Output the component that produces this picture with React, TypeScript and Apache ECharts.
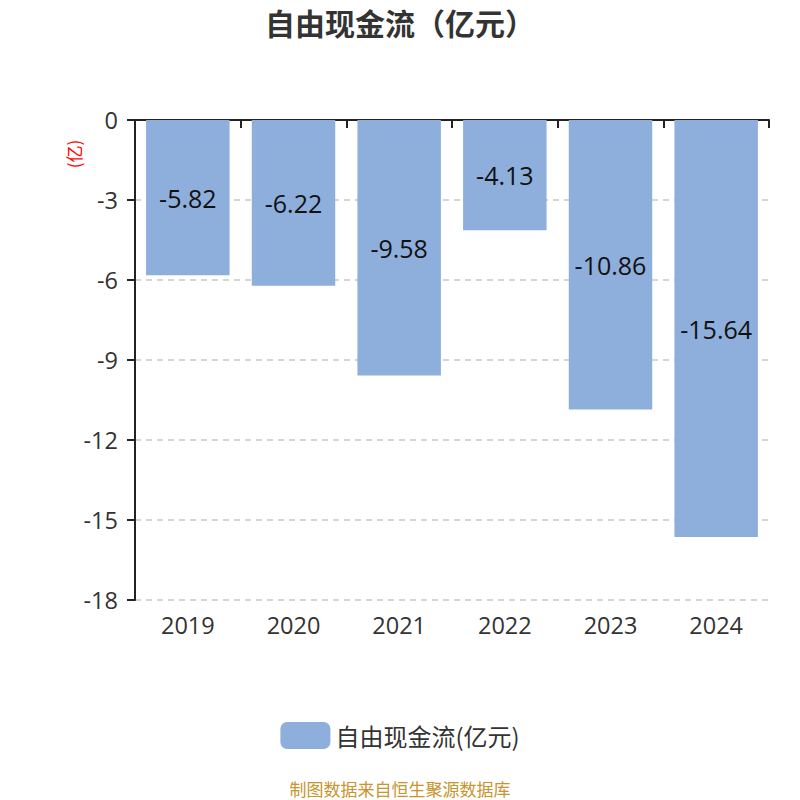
import React, { useEffect, useRef } from "react";
import * as echarts from "echarts";

const categories = ["2019", "2020", "2021", "2022", "2023", "2024"];
const values = [-5.82, -6.22, -9.58, -4.13, -10.86, -15.64];
const seriesName = "自由现金流(亿元)";
const titleText = "自由现金流（亿元）";
const unitText = "(亿)";
const footerText = "制图数据来自恒生聚源数据库";

export default function App() {
  const ref = useRef<HTMLDivElement>(null);
  useEffect(() => {
    document.body.style.margin = "0";
    const chart = echarts.init(ref.current!, null, { renderer: "svg" });
    const font = "'Noto Sans CJK SC', 'Noto Sans', sans-serif";
    const numFont = "'Open Sans', 'Noto Sans', sans-serif";
    chart.setOption({
      animation: false,
      textStyle: { fontFamily: font },
      title: [
        {
          text: titleText,
          left: "center",
          top: 6,
          padding: 0,
          textStyle: { fontSize: 30, lineHeight: 32, fontWeight: "bold", color: "#333", fontFamily: font },
        },
        {
          text: footerText,
          left: "center",
          top: 779,
          padding: 0,
          textStyle: { fontSize: 17, lineHeight: 18, fontWeight: "normal", color: "#c8942c", fontFamily: font },
        },
      ],
      legend: {
        data: [seriesName],
        left: "center",
        top: 717,
        itemWidth: 50,
        itemHeight: 27,
        itemGap: 10,
        icon: "roundRect",
        textStyle: { fontSize: 24, color: "#333", fontFamily: font },
      },
      grid: { left: 135, right: 31, top: 120, bottom: 200, containLabel: false },
      xAxis: [
        {
          type: "category",
          data: categories,
          position: "bottom",
          axisLine: { show: false, onZero: false },
          axisTick: { show: false },
          axisLabel: { fontSize: 23.5, color: "#333", margin: 13, fontFamily: numFont },
        },
        {
          type: "category",
          data: categories,
          position: "top",
          axisLine: { show: true, onZero: false, lineStyle: { color: "#222", width: 2 } },
          axisTick: { show: true, inside: true, length: 8, lineStyle: { color: "#222", width: 2 } },
          axisLabel: { show: false },
        },
      ],
      yAxis: {
        type: "value",
        min: -18,
        max: 0,
        interval: 3,
        axisLine: { show: true, lineStyle: { color: "#222", width: 2 } },
        axisTick: { show: true, length: 8, lineStyle: { color: "#222", width: 2 } },
        axisLabel: { fontSize: 23.5, color: "#333", margin: 17, fontFamily: numFont },
        splitLine: { show: true, lineStyle: { type: [6, 5], color: "#c8c8c8", width: 1.5 } },
      },
      graphic: [
        {
          type: "text",
          x: 73,
          y: 154,
          rotation: Math.PI / 2,
          style: {
            text: unitText,
            fill: "#ff0000",
            fontSize: 17,
            fontFamily: font,
            align: "center",
            verticalAlign: "middle",
          },
        },
      ],
      series: [
        {
          name: seriesName,
          type: "bar",
          xAxisIndex: 0,
          data: values,
          barWidth: "79%",
          itemStyle: { color: "#8eaedb" },
          label: {
            show: true,
            position: "inside",
            fontSize: 25,
            color: "#111",
            fontFamily: numFont,
          },
        },
      ],
    });
    return () => chart.dispose();
  }, []);
  return <div ref={ref} style={{ width: 800, height: 800 }} />;
}
